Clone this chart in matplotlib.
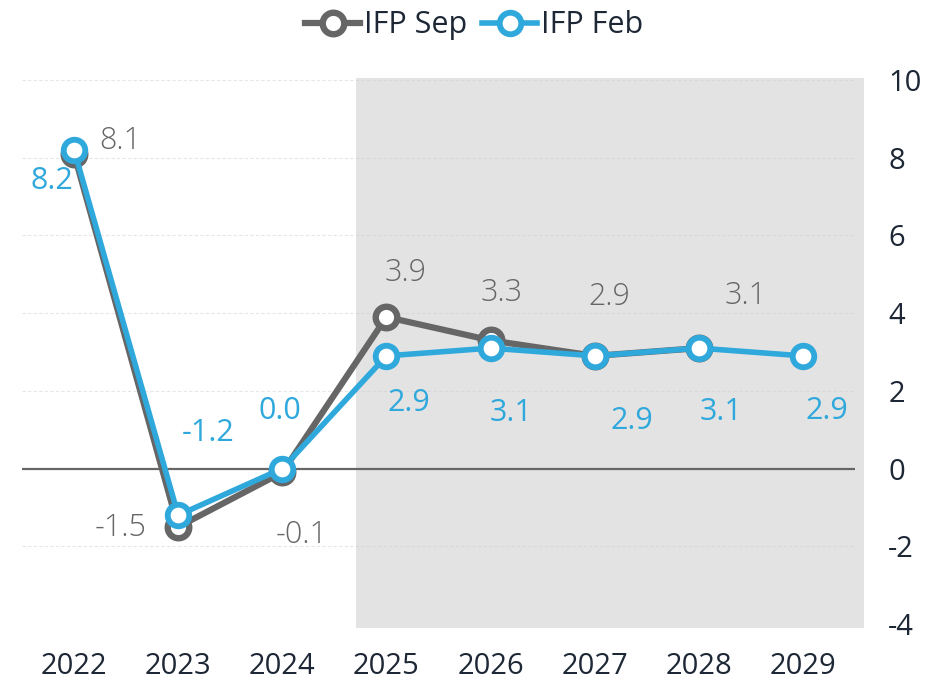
import matplotlib
matplotlib.use("Agg")
import matplotlib.pyplot as plt
import numpy as np
from matplotlib.patches import Rectangle

plt.rcParams["font.family"] = ["Open Sans", "DejaVu Sans"]

years = [2022, 2023, 2024, 2025, 2026, 2027, 2028, 2029]
ifp_sep = [8.1, -1.5, -0.1, 3.9, 3.3, 2.9, 3.1, np.nan]
ifp_feb = [8.2, -1.2, 0.0, 2.9, 3.1, 2.9, 3.1, 2.9]
y_ticks = [-4, -2, 0, 2, 4, 6, 8, 10]

# label offsets in pixels (dx, dy), dy positive = up
sep_offsets = [(46, 13), (-58, -1), (19, -63), (19, 44), (11, 47), (15, 59), (47, 52)]
feb_offsets = [(-22, -31), (30, 82), (-2, 58), (22, -47), (21, -65), (37, -65), (22, -64), (24, -55)]

GRAY = "#666666"
BLUE = "#2fa8dc"
DARK = "#1d2735"
SHADE = "#e3e3e3"


def main():
    fig = plt.figure(figsize=(9.43, 6.87), dpi=100)
    ax = fig.add_axes([22 / 943, 63 / 687, 833 / 943, 544 / 687])
    ax.set_xlim(2021.5, 2029.5)
    ax.set_ylim(-4, 10)

    # forecast shading
    ax.add_patch(Rectangle((2024.71, -4.1), 4.88, 14.15, facecolor=SHADE,
                           edgecolor="none", zorder=0, clip_on=False))

    for yv in y_ticks:
        if yv == 0:
            ax.axhline(0, color=GRAY, lw=1.6, zorder=1)
        else:
            ax.axhline(yv, color="#cfcfcf", lw=0.8, ls=(0, (3, 2)), alpha=0.5, zorder=1)

    ax.plot(years, ifp_sep, color=GRAY, lw=4.5, marker="o", ms=15.5, mew=4.6,
            mfc="white", mec=GRAY, zorder=3, label="IFP Sep")
    ax.plot(years, ifp_feb, color=BLUE, lw=4, marker="o", ms=15.5, mew=4.2,
            mfc="white", mec=BLUE, zorder=4, label="IFP Feb")

    for x, v, off in zip(years, ifp_sep, sep_offsets):
        ax.annotate(f"{v:.1f}", (x, v), xytext=off, textcoords="offset pixels",
                    ha="center", va="center", fontsize=22, color=GRAY,
                    fontweight="light", zorder=5)
    for x, v, off in zip(years, ifp_feb, feb_offsets):
        ax.annotate(f"{v:.1f}", (x, v), xytext=off, textcoords="offset pixels",
                    ha="center", va="center", fontsize=22, color=BLUE,
                    fontweight="normal", zorder=5)

    ax.set_xticks(years)
    ax.set_xticklabels([str(y) for y in years], fontsize=21, color=DARK)
    ax.yaxis.tick_right()
    ax.set_yticks(y_ticks)
    ax.set_yticklabels([str(t) for t in y_ticks], fontsize=21, color=DARK)
    ax.tick_params(axis="both", length=0)
    ax.tick_params(axis="x", pad=20)
    ax.tick_params(axis="y", pad=24)
    for sp in ax.spines.values():
        sp.set_visible(False)

    fig.legend(loc="upper center", bbox_to_anchor=(0.503, 1.025), ncol=2,
               frameon=False, fontsize=22, handlelength=1.8, handletextpad=0.12,
               columnspacing=0.5, labelcolor=DARK)

    fig.savefig("out.png", dpi=100)
    plt.close(fig)


if __name__ == "__main__":
    main()
